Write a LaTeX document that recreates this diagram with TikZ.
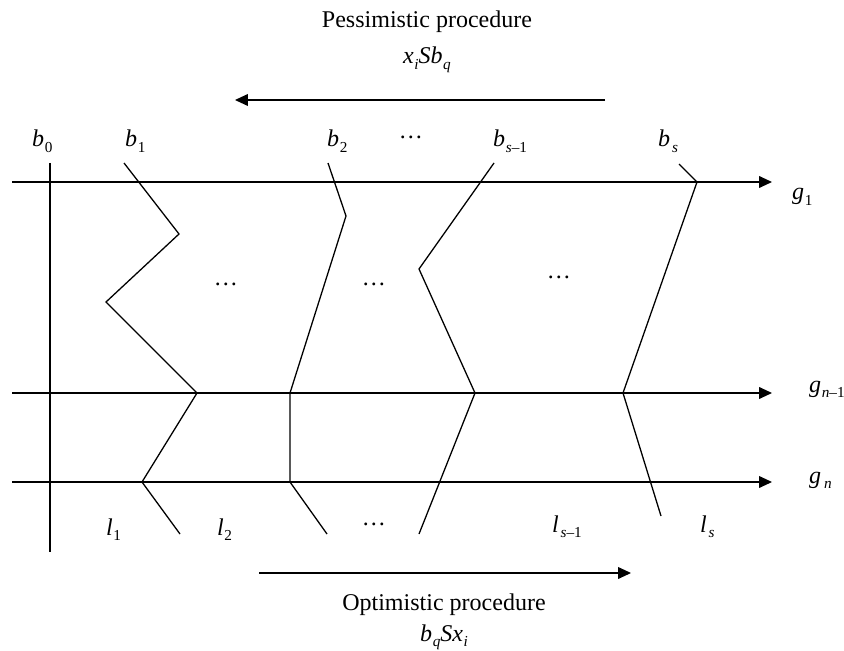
\documentclass[tikz,border=0pt]{standalone}
\usepackage{fontspec}
\setmainfont{Liberation Serif}
\usepackage{tikz}
\usetikzlibrary{arrows.meta,positioning}
\newcommand{\sub}[1]{\kern0.5pt\raisebox{-5pt}{\fontsize{13}{13}\selectfont#1}}
\newcommand{\lab}[2]{\textit{#1}\sub{#2}}
\tikzset{
  axisline/.style={-{Triangle[length=11pt,width=10pt]},line width=1.1pt},
  border/.style={line width=1.1pt,line join=miter},
  dirarrow/.style={-{Triangle[length=11pt,width=10pt]},line width=1.1pt},
  lbl/.style={font=\fontsize{20.5}{24}\selectfont,inner sep=0pt,anchor=base west},
  caption/.style={font=\fontsize{20.5}{24}\selectfont,inner sep=0pt,anchor=base},
  dots/.style={font=\fontsize{20.5}{24}\selectfont,inner sep=0pt},
}
\begin{document}
\begin{tikzpicture}[x=0.03cm,y=-0.03cm]
  \useasboundingbox (0,0) rectangle (844,651);
  % criteria axes
  \coordinate (g1s) at (12,182);   \coordinate (g1e) at (772,182);
  \coordinate (gms) at (12,393);   \coordinate (gme) at (772,393);
  \coordinate (gns) at (12,482);   \coordinate (gne) at (772,482);
  \draw[axisline] (g1s) -- (g1e);
  \draw[axisline] (gms) -- (gme);
  \draw[axisline] (gns) -- (gne);
  \node[lbl] (g1) at (792,200) {\lab{g}{1}};
  \node[lbl] (gm) at (809,392) {\lab{g}{\textit{n}--1}};
  \node[lbl] (gn) at (809,483) {\lab{g}{\kern2pt\textit{n}}};
  % class borders
  \coordinate (b0t) at (50,163);  \coordinate (b0b) at (50,552);
  \draw[border] (b0t) -- (b0b);
  \draw[border] (124,163) -- (179,234) -- (106,302) -- (197,393) -- (142,482) -- (180,534);
  \draw[border] (328,163) -- (346,216) -- (290,393) -- (290,482) -- (327,534);
  \draw[border] (494,163) -- (419,269) -- (475,393) -- (419,534);
  \draw[border] (679,164) -- (697,182) -- (623,393) -- (661,516);
  % profiles
  \node[lbl] (b0) at (32,147) {\lab{b}{0}};
  \node[lbl] (b1) at (125,147) {\lab{b}{1}};
  \node[lbl] (b2) at (327,147) {\lab{b}{2}};
  \node[dots] (bd) at (411,137) {\ldots};
  \node[lbl] (bs1) at (493,147) {\lab{b}{\textit{s}--1}};
  \node[lbl] (bs) at (658,147) {\lab{b}{\kern1pt\textit{s}}};
  \node[dots] (d1) at (226,284) {\ldots};
  \node[dots] (d2) at (374,284) {\ldots};
  \node[dots] (d3) at (559,277) {\ldots};
  % classes
  \node[lbl] (l1) at (106,535) {\lab{l}{1}};
  \node[lbl] (l2) at (217,535) {\lab{l}{2}};
  \node[dots] (ld) at (374,524) {\ldots};
  \node[lbl] (ls1) at (552,532) {\lab{l}{\kern1pt\textit{s}--1}};
  \node[lbl] (ls) at (700,532) {\lab{l}{\kern1pt\textit{s}}};
  % procedures
  \node[caption] (pess) at (427,28) {Pessimistic procedure};
  \node[caption] (pessf) at (427,64) {\lab{x}{\textit{i}}\textit{Sb}\sub{\textit{q}}};
  \coordinate (pa) at (605,100); \coordinate (pb) at (235,100);
  \draw[dirarrow] (pa) -- (pb);
  \coordinate (oa) at (259,573); \coordinate (ob) at (631,573);
  \draw[dirarrow] (oa) -- (ob);
  \node[caption] (opt) at (444,610) {Optimistic procedure};
  \node[caption] (optf) at (444,641) {\lab{b}{\textit{q}}\textit{Sx}\sub{\textit{i}}};
\end{tikzpicture}
\end{document}
